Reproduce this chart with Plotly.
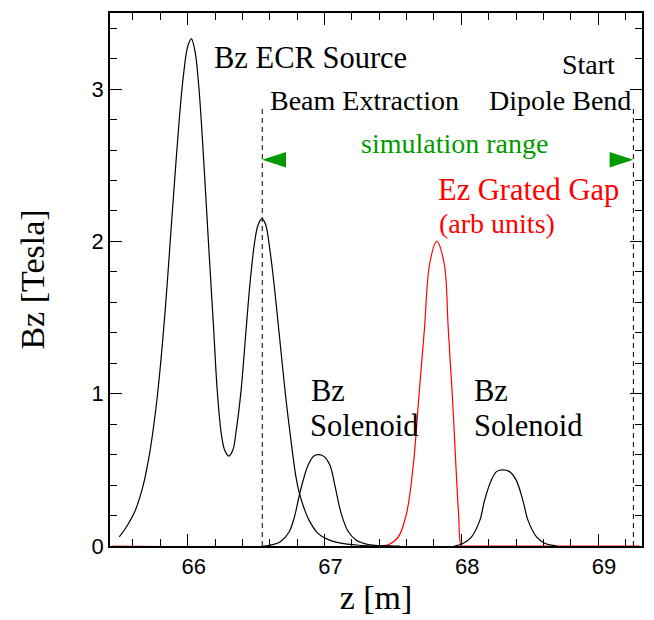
import plotly.graph_objects as go

# ---------------- data ----------------
# Bz of the ECR source (Tesla)
ecr_z = [65.50, 65.555, 65.615, 65.675, 65.72, 65.75, 65.78, 65.82, 65.85, 65.88,
         65.91, 65.94, 65.97, 66.00, 66.027, 66.055, 66.08, 66.10, 66.125, 66.15,
         66.17, 66.19, 66.216, 66.245, 66.27, 66.30, 66.33, 66.355, 66.39, 66.425,
         66.455, 66.49, 66.515, 66.543, 66.57, 66.60, 66.625, 66.65, 66.693, 66.72,
         66.754, 66.79, 66.815, 66.85, 66.887, 66.95, 67.02, 67.10, 67.25, 67.55]
ecr_bz = [0.06, 0.13, 0.23, 0.40, 0.60, 0.78, 1.0, 1.38, 1.72, 2.10,
          2.47, 2.82, 3.10, 3.28, 3.33, 3.24, 3.03, 2.78, 2.41, 2.02,
          1.72, 1.42, 1.02, 0.74, 0.63, 0.59, 0.63, 0.76, 1.02, 1.40,
          1.72, 2.0, 2.11, 2.15, 2.11, 1.95, 1.77, 1.56, 1.18, 0.95,
          0.70, 0.46, 0.35, 0.25, 0.17, 0.085, 0.045, 0.022, 0.005, 0.0]

# Bz of the first solenoid
sol1_z = [66.55, 66.60, 66.68, 66.74, 66.78, 66.815, 66.85, 66.88, 66.92, 66.96,
          67.00, 67.04, 67.08, 67.12, 67.17, 67.23, 67.32, 67.50]
sol1_bz = [0.0, 0.005, 0.03, 0.09, 0.19, 0.33, 0.45, 0.53, 0.59, 0.60,
           0.585, 0.53, 0.38, 0.22, 0.10, 0.04, 0.01, 0.0]

# Bz of the second solenoid
sol2_z = [67.95, 68.015, 68.075, 68.136, 68.17, 68.22, 68.26, 68.305, 68.35, 68.40,
          68.45, 68.487, 68.55, 68.61, 68.70]
sol2_bz = [0.0, 0.018, 0.06, 0.17, 0.30, 0.434, 0.49, 0.50, 0.49, 0.434,
           0.30, 0.17, 0.06, 0.018, 0.0]

# Ez of the grated gap (arbitrary units)
ez_z = [65.45, 67.40, 67.47, 67.54, 67.60, 67.65, 67.69, 67.73, 67.77, 67.82,
        67.874, 67.905, 67.935, 67.96, 67.98, 68.00, 68.02, 69.30]
ez_val = [0.0, 0.0, 0.01, 0.06, 0.215, 0.54, 0.98, 1.42, 1.86, 2.0,
          1.86, 1.42, 0.98, 0.54, 0.215, 0.0, 0.0, 0.0]

# beam extraction point and start of the dipole bend (simulation range)
range_z = [66.545, 69.258]
range_marker_top = 2.88
range_arrow_level = 2.537

x_range = [65.432, 69.321]
y_range = [0, 3.5]
x_ticks = [66, 67, 68, 69]
y_ticks = [0, 1, 2, 3]

# ---------------- figure ----------------
SERIF = "Liberation Serif, Times New Roman, serif"
SANS = "Liberation Sans, Arial, sans-serif"
GREEN = "#009a00"

fig = go.Figure()

fig.add_trace(go.Scatter(x=ez_z, y=ez_val, mode="lines",
                         line=dict(color="#ff0000", width=1.2, shape="spline", smoothing=1.0),
                         showlegend=False, hoverinfo="skip"))
for zs, bs in [(ecr_z, ecr_bz), (sol1_z, sol1_bz), (sol2_z, sol2_bz)]:
    fig.add_trace(go.Scatter(x=zs, y=bs, mode="lines",
                             line=dict(color="black", width=1.2, shape="spline", smoothing=1.0),
                             showlegend=False, hoverinfo="skip"))

for zr in range_z:
    fig.add_shape(type="line", xref="x", yref="y", x0=zr, x1=zr, y0=0, y1=range_marker_top,
                  line=dict(color="black", width=1, dash="5px,4px"))

fig.add_trace(go.Scatter(x=range_z, y=[range_arrow_level] * 2, mode="markers",
                         marker=dict(symbol="arrow", size=25, angle=[-90, 90], color=GREEN,
                                     line=dict(width=0)),
                         showlegend=False, hoverinfo="skip", cliponaxis=False))

# empty trace so the mirrored (top / right) tick axes exist
fig.add_trace(go.Scatter(x=[], y=[], xaxis="x2", yaxis="y2", showlegend=False, hoverinfo="skip"))


def label(text, x, y, size, color="black", xanchor="left"):
    fig.add_annotation(text=text, x=x, y=y, xref="x", yref="y", showarrow=False,
                       xanchor=xanchor, yanchor="middle",
                       font=dict(family=SERIF, size=size, color=color))


label("Bz ECR Source", 66.175, 3.206, 30.5)
label("Beam Extraction", 66.588, 2.927, 28)
label("Start", 69.14, 3.16, 28, xanchor="right")
label("Dipole Bend", 69.255, 2.927, 28, xanchor="right")
label("simulation range", 67.952, 2.645, 28, color=GREEN, xanchor="center")
label("Ez Grated Gap", 67.814, 2.337, 30.5, color="#ff0000")
label("(arb units)", 67.823, 2.12, 28, color="#ff0000")
label("Bz", 66.889, 1.016, 30.5)
label("Solenoid", 66.881, 0.791, 30.5)
label("Bz", 68.078, 1.016, 30.5)
label("Solenoid", 68.078, 0.791, 30.5)

tick_common = dict(
    showgrid=False, zeroline=False, ticks="inside", ticklen=12, tickwidth=1.2, tickcolor="black",
    tickfont=dict(family=SANS, size=22, color="black"), tickmode="array",
)
minor_common = dict(tickmode="linear", dtick=0.2, ticks="inside", ticklen=7,
                    tickwidth=1.2, tickcolor="black", showgrid=False)

fig.update_layout(
    xaxis=dict(range=x_range, tickvals=x_ticks, ticktext=[str(v) for v in x_ticks],
               minor=dict(tick0=66, **minor_common),
               showline=True, linecolor="black", linewidth=1.5, mirror=True,
               title=dict(text="z [m]", font=dict(family=SERIF, size=34, color="black"), standoff=6),
               ticklabelshift=6, layer="below traces", **tick_common),
    yaxis=dict(range=y_range, tickvals=y_ticks, ticktext=[str(v) for v in y_ticks],
               minor=dict(tick0=0, **minor_common),
               showline=True, linecolor="black", linewidth=1.5, mirror=True,
               title=dict(text="Bz [Tesla]", font=dict(family=SERIF, size=34, color="black"), standoff=37),
               **tick_common),
    xaxis2=dict(range=x_range, overlaying="x", side="top", anchor="y", tickvals=x_ticks,
                showticklabels=False, showline=False, minor=dict(tick0=66, **minor_common),
                **tick_common),
    yaxis2=dict(range=y_range, overlaying="y", side="right", anchor="x", tickvals=y_ticks,
                showticklabels=False, showline=False, minor=dict(tick0=0, **minor_common),
                **tick_common),
    width=654, height=620, margin=dict(l=110, r=10, t=13, b=74),
    plot_bgcolor="white", paper_bgcolor="white",
)

fig.write_html("out.html", config={"displayModeBar": False},
               post_script="document.body.style.margin='0';document.body.style.overflow='hidden';")
